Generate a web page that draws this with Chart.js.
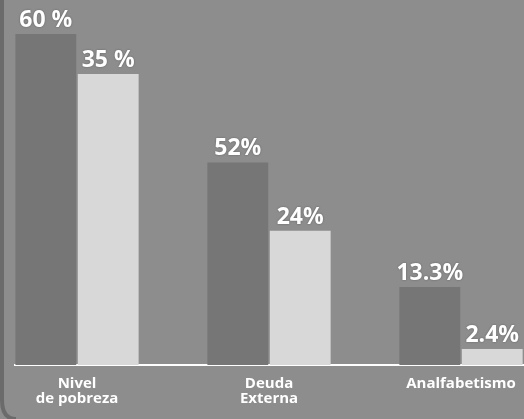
<!DOCTYPE html>
<html>
<head>
<meta charset="utf-8">
<script src="https://cdn.jsdelivr.net/npm/chart.js@4.4.1/dist/chart.umd.min.js"></script>
<style>
    html, body { margin: 0; padding: 0; background: #8d8d8d; overflow: hidden; }
    canvas { display: block; }
</style>
</head>
<body>
<canvas id="grafico" width="524" height="419"></canvas>
<script>
// Datos del gráfico (las barras no están a escala en el original:
// las alturas se leen del dibujo, en % de la altura del área)
const categorias = [['Nivel', 'de pobreza'], ['Deuda', 'Externa'], ['Analfabetismo']];
const etiquetasOscuras = ['60 %', '52%', '13.3%'];
const etiquetasClaras = ['35 %', '24%', '2.4%'];
const alturasOscuras = [90.7, 55.5, 21.4];
const alturasClaras = [79.7, 36.8, 4.4];

// Fondo gris del recorte, con el borde oscuro a la izquierda
const fondoPlugin = {
    id: 'fondo',
    beforeDraw(chart) {
        const ctx = chart.ctx;
        ctx.save();
        ctx.fillStyle = '#8d8d8d';
        ctx.fillRect(0, 0, chart.width, chart.height);
        ctx.strokeStyle = '#6b6b6b';
        ctx.lineWidth = 4;
        ctx.beginPath();
        ctx.moveTo(2, 0);
        ctx.lineTo(2, 400);
        ctx.quadraticCurveTo(2, chart.height, 16, chart.height);
        ctx.stroke();
        ctx.restore();
    }
};

// Etiquetas de valor encima de cada barra
const etiquetasPlugin = {
    id: 'etiquetas',
    afterDatasetsDraw(chart) {
        const ctx = chart.ctx;
        const textos = [etiquetasOscuras, etiquetasClaras];
        ctx.save();
        ctx.font = 'bold 23px "Open Sans"';
        ctx.fillStyle = '#ffffff';
        ctx.textAlign = 'center';
        ctx.textBaseline = 'bottom';
        ctx.shadowColor = 'rgba(0,0,0,0.35)';
        ctx.shadowBlur = 2;
        chart.data.datasets.forEach((ds, d) => {
            chart.getDatasetMeta(d).data.forEach((bar, i) => {
                ctx.fillText(textos[d][i], bar.x, bar.y - 2);
            });
        });
        ctx.restore();
    }
};

new Chart(document.getElementById('grafico'), {
    type: 'bar',
    data: {
        datasets: [
            {
                data: alturasOscuras.map((v, i) => ({ x: i, y: v })),
                backgroundColor: '#767676'
            },
            {
                data: alturasClaras.map((v, i) => ({ x: i, y: v })),
                backgroundColor: '#d8d8d8'
            }
        ]
    },
    options: {
        responsive: false,
        animation: false,
        categoryPercentage: 0.65,
        barPercentage: 0.975,
        layout: { padding: { left: 15, right: 0, top: 0, bottom: 2 } },
        plugins: {
            legend: { display: false },
            tooltip: { enabled: false }
        },
        scales: {
            x: {
                type: 'linear',
                offset: false,
                bounds: 'ticks',
                min: -0.323,
                max: 2.328,
                afterBuildTicks: (scale) => {
                    scale.ticks = categorias.map((_, i) => ({ value: i }));
                },
                // sin relleno extra para las etiquetas de los extremos
                afterFit: (scale) => {
                    scale.paddingLeft = 0;
                    scale.paddingRight = 0;
                },
                grid: { display: false, drawTicks: false, offset: false },
                border: { display: true, color: '#ffffff', width: 2 },
                ticks: {
                    autoSkip: false,
                    maxRotation: 0,
                    padding: 11,
                    color: '#ffffff',
                    font: { family: '"Open Sans"', size: 15, weight: 'bold', lineHeight: 1.0 },
                    callback: (v) => categorias[v]
                }
            },
            y: {
                display: false,
                min: 0,
                max: 100
            }
        }
    },
    plugins: [fondoPlugin, etiquetasPlugin]
});
</script>
</body>
</html>
